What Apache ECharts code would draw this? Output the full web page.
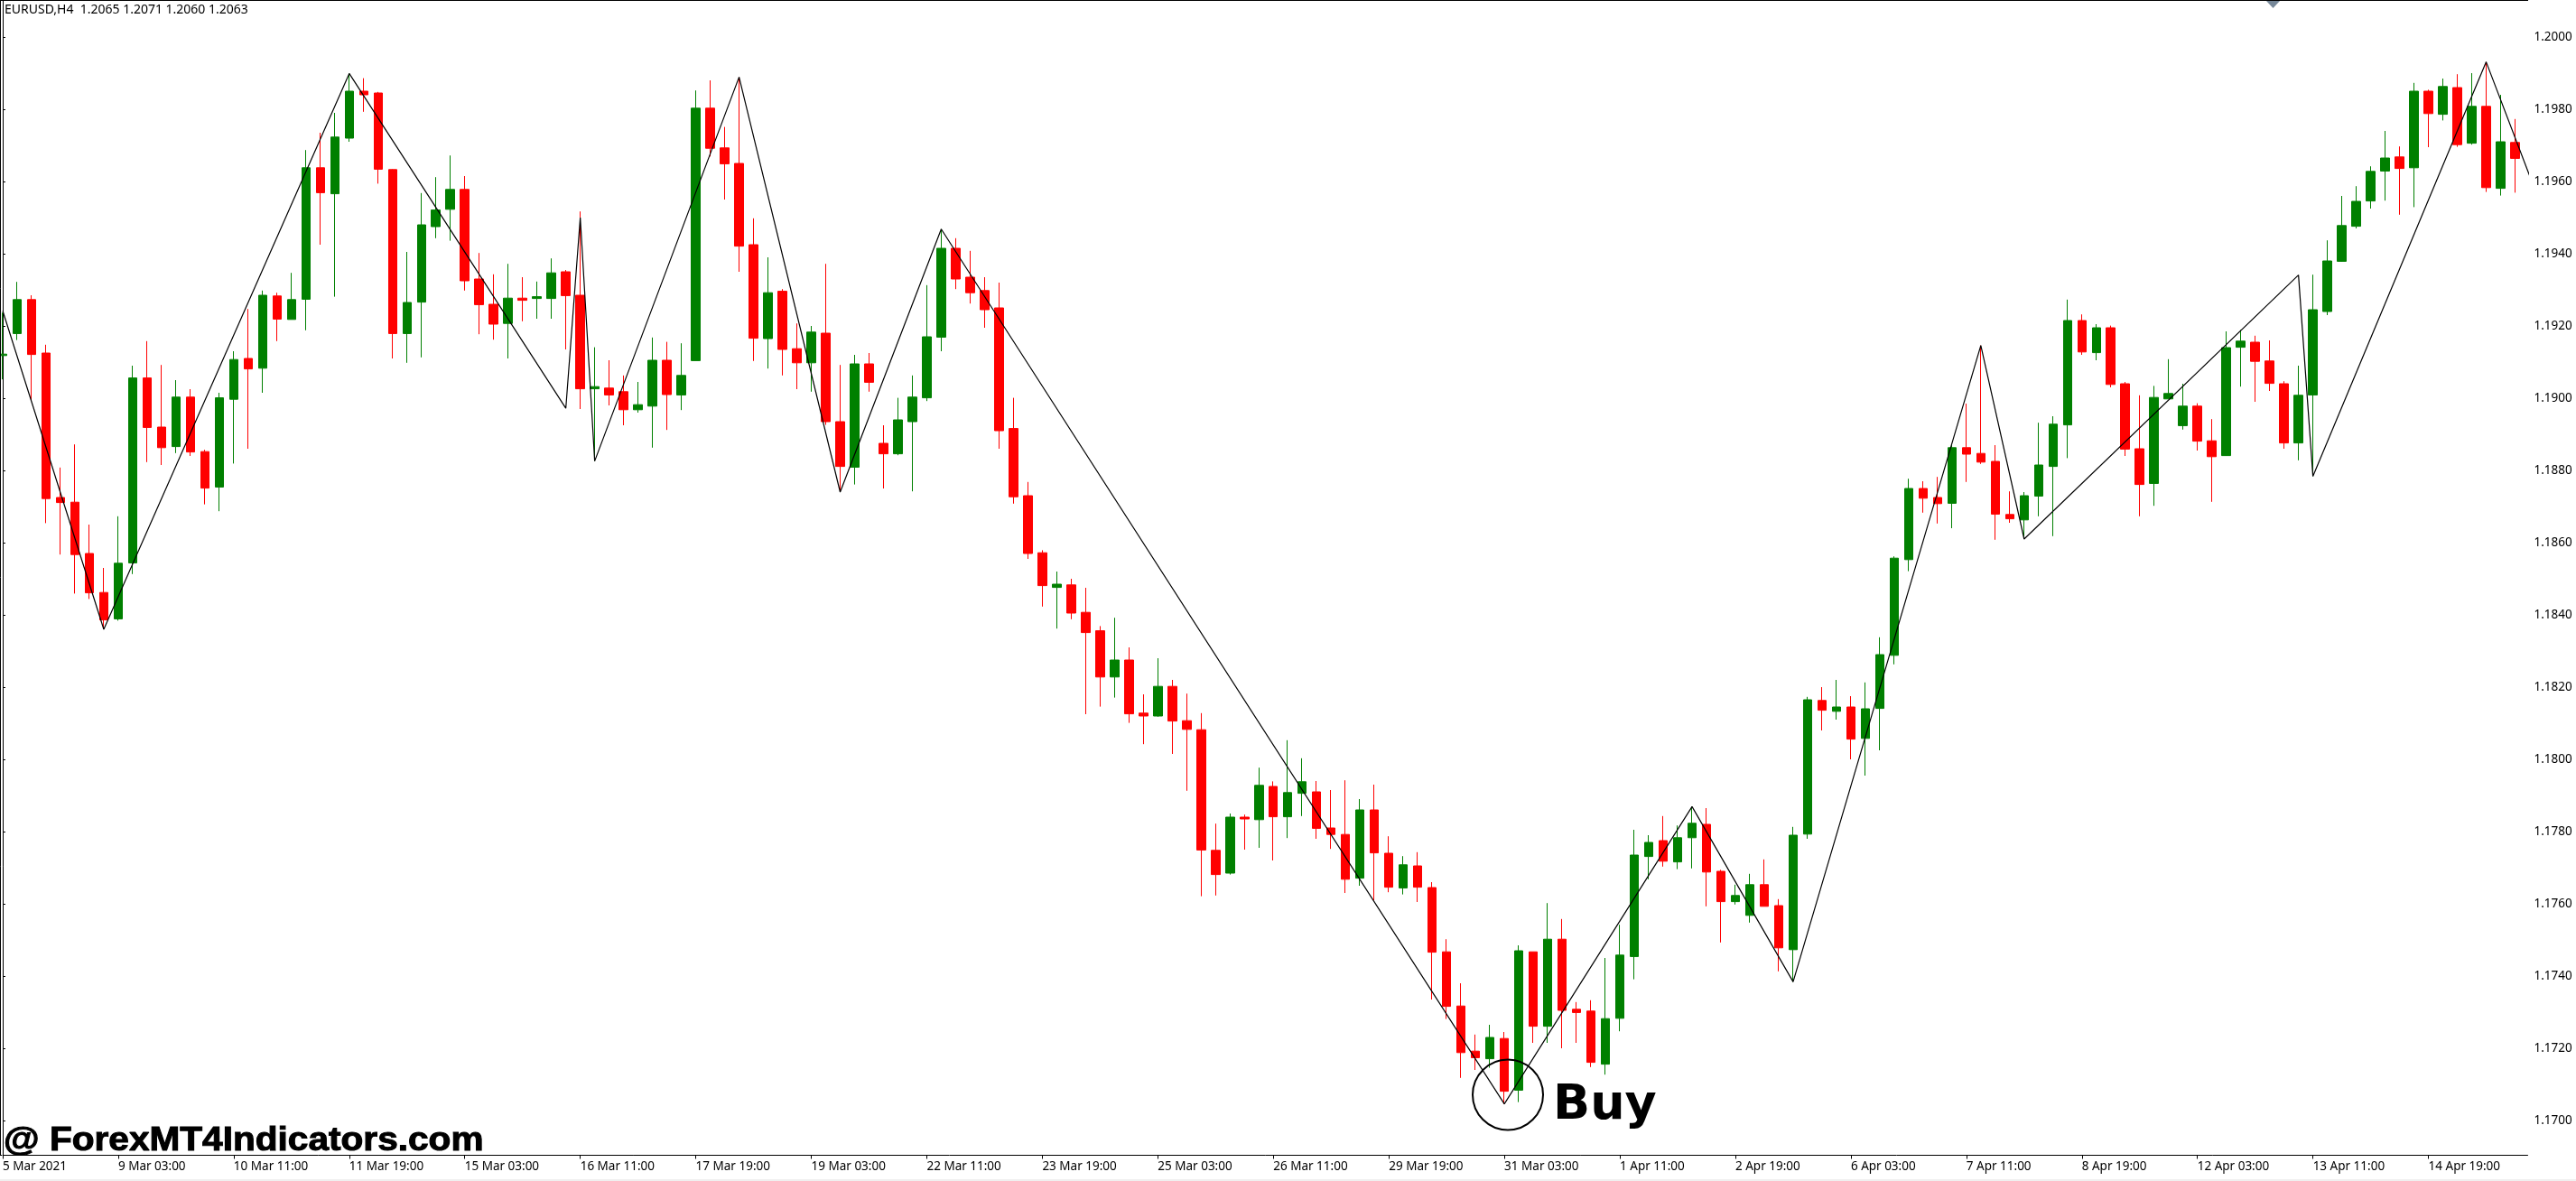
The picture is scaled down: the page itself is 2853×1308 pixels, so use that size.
<!DOCTYPE html>
<html>
<head>
<meta charset="utf-8">
<title>EURUSD,H4</title>
<script src="https://cdn.jsdelivr.net/npm/echarts@6/dist/echarts.min.js"></script>
<style>
  html, body { margin: 0; padding: 0; background: #fff; }
  #chart { width: 2853px; height: 1308px; }
</style>
</head>
<body>
<div id="chart"></div>
<script>
var opens = [
  1.19118,1.19179,1.19273,1.19125,1.18725,1.18712,1.18570,1.18462,1.18389,1.18544,
  1.19056,1.18920,1.18866,1.19003,1.18852,1.18754,1.18997,1.19110,1.19083,1.19283,
  1.19218,1.19274,1.19638,1.19566,1.19720,1.19850,1.19845,1.19633,1.19179,1.19266,
  1.19475,1.19523,1.19578,1.19330,1.19260,1.19207,1.19277,1.19276,1.19276,1.19350,
  1.19285,1.19026,1.19028,1.19018,1.18968,1.18978,1.19105,1.19009,1.19104,1.19803,
  1.19693,1.19650,1.19425,1.19165,1.19296,1.19137,1.19098,1.19180,1.18935,1.18809,
  1.19095,1.18875,1.18846,1.18935,1.19001,1.19169,1.19415,1.19335,1.19298,1.19250,
  1.18916,1.18730,1.18572,1.18476,1.18483,1.18407,1.18356,1.18228,1.18275,1.18128,
  1.18120,1.18202,1.18107,1.18082,1.17748,1.17685,1.17840,1.17833,1.17925,1.17841,
  1.17906,1.17910,1.17810,1.17792,1.17671,1.17860,1.17740,1.17644,1.17705,1.17645,
  1.17467,1.17317,1.17192,1.17171,1.17227,1.17084,1.17467,1.17261,1.17502,1.17308,
  1.17303,1.17156,1.17283,1.17454,1.17731,1.17775,1.17716,1.17783,1.17820,1.17690,
  1.17606,1.17568,1.17653,1.17595,1.17473,1.17793,1.18163,1.18133,1.18145,1.18058,
  1.18141,1.18288,1.18553,1.18750,1.18725,1.18709,1.18863,1.18847,1.18825,1.18678,
  1.18663,1.18729,1.18811,1.18926,1.19215,1.19126,1.19195,1.19040,1.18860,1.18764,
  1.18998,1.18924,1.18978,1.18882,1.18841,1.19141,1.19155,1.19103,1.19040,1.18876,
  1.19009,1.19240,1.19379,1.19476,1.19546,1.19629,1.19668,1.19638,1.19850,1.19786,
  1.19860,1.19706,1.19808,1.19581,1.19708
];
var closes = [
  1.19122,1.19273,1.19121,1.18722,1.18711,1.18567,1.18461,1.18386,1.18543,1.19056,
  1.18919,1.18863,1.19003,1.18851,1.18751,1.19001,1.19107,1.19081,1.19285,1.19219,
  1.19273,1.19638,1.19569,1.19723,1.19850,1.19840,1.19634,1.19179,1.19265,1.19480,
  1.19521,1.19578,1.19325,1.19259,1.19205,1.19277,1.19271,1.19281,1.19347,1.19284,
  1.19026,1.19032,1.19009,1.18968,1.18982,1.19105,1.19010,1.19063,1.19803,1.19692,
  1.19649,1.19421,1.19166,1.19292,1.19135,1.19098,1.19183,1.18935,1.18811,1.19095,
  1.19044,1.18846,1.18940,1.19003,1.19170,1.19415,1.19330,1.19292,1.19245,1.18910,
  1.18727,1.18570,1.18481,1.18485,1.18405,1.18351,1.18228,1.18275,1.18126,1.18120,
  1.18202,1.18106,1.18083,1.17749,1.17681,1.17840,1.17835,1.17928,1.17841,1.17908,
  1.17938,1.17809,1.17792,1.17668,1.17860,1.17741,1.17646,1.17708,1.17646,1.17466,
  1.17316,1.17188,1.17174,1.17230,1.17081,1.17470,1.17261,1.17502,1.17305,1.17299,
  1.17161,1.17282,1.17458,1.17735,1.17770,1.17718,1.17783,1.17823,1.17688,1.17606,
  1.17623,1.17653,1.17593,1.17478,1.17790,1.18165,1.18136,1.18145,1.18056,1.18140,
  1.18290,1.18557,1.18750,1.18723,1.18708,1.18863,1.18845,1.18823,1.18679,1.18666,
  1.18730,1.18815,1.18928,1.19215,1.19128,1.19195,1.19038,1.18859,1.18761,1.19002,
  1.19013,1.18978,1.18881,1.18838,1.19140,1.19158,1.19102,1.19041,1.18876,1.19008,
  1.19245,1.19380,1.19478,1.19545,1.19628,1.19665,1.19636,1.19850,1.19788,1.19863,
  1.19702,1.19808,1.19583,1.19710,1.19664
];
var highs = [
  1.19237,1.19322,1.19285,1.19148,1.18808,1.18872,1.18650,1.18530,1.18673,1.19090,
  1.19158,1.19092,1.19050,1.19025,1.18857,1.19015,1.19130,1.19247,1.19298,1.19292,
  1.19347,1.19687,1.19735,1.19790,1.19899,1.19886,1.19848,1.19634,1.19405,1.19568,
  1.19612,1.19672,1.19615,1.19402,1.19343,1.19372,1.19335,1.19323,1.19387,1.19355,
  1.19517,1.19141,1.19105,1.19063,1.19045,1.19168,1.19156,1.19152,1.19852,1.19880,
  1.19751,1.19889,1.19498,1.19390,1.19302,1.19207,1.19200,1.19372,1.19092,1.19120,
  1.19125,1.18925,1.19001,1.19063,1.19313,1.19468,1.19443,1.19408,1.19335,1.19320,
  1.19001,1.18768,1.18579,1.18520,1.18500,1.18475,1.18369,1.18392,1.18310,1.18180,
  1.18280,1.18220,1.18182,1.18128,1.17822,1.17850,1.17847,1.17977,1.17939,1.18053,
  1.18003,1.17940,1.17915,1.17942,1.17890,1.17930,1.17787,1.17732,1.17743,1.17660,
  1.17502,1.17380,1.17238,1.17265,1.17245,1.17485,1.17467,1.17602,1.17558,1.17328,
  1.17333,1.17450,1.17542,1.17805,1.17790,1.17843,1.17817,1.17869,1.17865,1.17694,
  1.17653,1.17683,1.17723,1.17613,1.17813,1.18173,1.18200,1.18220,1.18175,1.18213,
  1.18338,1.18562,1.18777,1.18770,1.18782,1.18870,1.18985,1.19146,1.18870,1.18742,
  1.18740,1.18932,1.18950,1.19273,1.19232,1.19205,1.19201,1.19045,1.19008,1.19034,
  1.19108,1.19040,1.18986,1.18942,1.19185,1.19189,1.19173,1.19160,1.19047,1.19090,
  1.19342,1.19437,1.19560,1.19587,1.19642,1.19740,1.19697,1.19873,1.19854,1.19885,
  1.19897,1.19900,1.19931,1.19840,1.19773
];
var lows = [
  1.19052,1.19161,1.18995,1.18654,1.18567,1.18459,1.18444,1.18360,1.18384,1.18513,
  1.18823,1.18815,1.18848,1.18840,1.18706,1.18687,1.18819,1.18860,1.19015,1.19158,
  1.19218,1.19188,1.19425,1.19281,1.19710,1.19793,1.19594,1.19110,1.19098,1.19113,
  1.19443,1.19436,1.19298,1.19177,1.19162,1.19110,1.19213,1.19220,1.19220,1.19135,
  1.18970,1.18826,1.18980,1.18925,1.18960,1.18863,1.18912,1.18967,1.19104,1.19669,
  1.19550,1.19350,1.19103,1.19082,1.19063,1.19025,1.19018,1.18926,1.18740,1.18761,
  1.19018,1.18750,1.18842,1.18742,1.18992,1.19130,1.19302,1.19262,1.19195,1.18860,
  1.18708,1.18555,1.18423,1.18362,1.18388,1.18125,1.18146,1.18171,1.18101,1.18042,
  1.18118,1.18015,1.17913,1.17621,1.17623,1.17681,1.17750,1.17755,1.17720,1.17782,
  1.17843,1.17780,1.17752,1.17630,1.17650,1.17610,1.17632,1.17626,1.17605,1.17335,
  1.17281,1.17118,1.17140,1.17146,1.17046,1.17051,1.17215,1.17215,1.17200,1.17215,
  1.17148,1.17127,1.17247,1.17391,1.17668,1.17703,1.17696,1.17698,1.17593,1.17493,
  1.17598,1.17548,1.17593,1.17413,1.17384,1.17780,1.18080,1.18110,1.18000,1.17955,
  1.18025,1.18263,1.18521,1.18683,1.18653,1.18640,1.18768,1.18818,1.18608,1.18655,
  1.18610,1.18673,1.18618,1.18834,1.19120,1.19105,1.19030,1.18840,1.18673,1.18702,
  1.18998,1.18913,1.18855,1.18713,1.18840,1.19032,1.18990,1.19020,1.18860,1.18828,
  1.18784,1.19230,1.19378,1.19470,1.19525,1.19547,1.19508,1.19529,1.19695,1.19769,
  1.19696,1.19702,1.19571,1.19561,1.19569
];

// zigzag turning points: bar number and price
var zigzagBars = [0, 7, 24, 39, 40, 41, 51, 58, 65, 104, 117, 124, 137, 140, 159, 160, 172, 175];
var zigzagPrices = [1.19242, 1.18360, 1.19899, 1.18972, 1.19500, 1.18826, 1.19889, 1.18740, 1.19468,
  1.17046, 1.17869, 1.17384, 1.19146, 1.18610, 1.19341, 1.18784, 1.19931, 1.19617];

var priceTicks = [1.2000, 1.1980, 1.1960, 1.1940, 1.1920, 1.1900, 1.1880, 1.1860, 1.1840, 1.1820,
  1.1800, 1.1780, 1.1760, 1.1740, 1.1720, 1.1700];
var timeLabels = ['5 Mar 2021', '9 Mar 03:00', '10 Mar 11:00', '11 Mar 19:00', '15 Mar 03:00', '16 Mar 11:00',
  '17 Mar 19:00', '19 Mar 03:00', '22 Mar 11:00', '23 Mar 19:00', '25 Mar 03:00', '26 Mar 11:00',
  '29 Mar 19:00', '31 Mar 03:00', '1 Apr 11:00', '2 Apr 19:00', '6 Apr 03:00', '7 Apr 11:00',
  '8 Apr 19:00', '12 Apr 03:00', '13 Apr 11:00', '14 Apr 19:00'];
var barsPerLabel = 8;

var chart = echarts.init(document.getElementById('chart'), null, { renderer: 'canvas' });
var axisFont = '"Noto Sans", sans-serif';
var timeTicks = timeLabels.map(function(l, i) { return i * barsPerLabel; });

var candles = opens.map(function(o, i) {
  return [i, o, closes[i], lows[i], highs[i]];
});
var zigzag = zigzagBars.map(function(b, i) {
  return [b, zigzagPrices[i]];
});

var option = {
  backgroundColor: '#fff',
  animation: false,
  grid: { left: 1.5, right: 53.5, top: 0.5, bottom: 28.5 },
  xAxis: {
    type: 'value',
    min: 0,
    max: 174.875,
    splitLine: { show: false },
    axisLine: { show: true, lineStyle: { color: '#000', width: 1 } },
    axisTick: { show: true, length: 4, customValues: timeTicks, lineStyle: { color: '#000' } },
    axisLabel: {
      customValues: timeTicks,
      margin: 6,
      color: '#000',
      fontFamily: axisFont,
      fontSize: 13.5,
      align: 'left',
      hideOverlap: false,
      formatter: function(v) { return timeLabels[v / barsPerLabel]; }
    }
  },
  yAxis: {
    type: 'value',
    position: 'right',
    min: 1.1690375,
    max: 1.2010125,
    splitLine: { show: false },
    axisLine: { show: true, lineStyle: { color: '#000', width: 1 } },
    axisTick: { show: true, length: 3, customValues: priceTicks, lineStyle: { color: '#000' } },
    axisLabel: {
      customValues: priceTicks,
      margin: 7,
      color: '#000',
      fontFamily: axisFont,
      fontSize: 13.5,
      formatter: function(v) { return v.toFixed(4); }
    }
  },
  series: [{
    name: 'ZigZag',
    type: 'line',
    data: zigzag,
    symbol: 'none',
    clip: true,
    lineStyle: { color: '#000', width: 1.2 }
  }, {
    name: 'EURUSD,H4',
    type: 'candlestick',
    data: candles,
    barWidth: 10,
    clip: false,
    itemStyle: {
      color: '#008000',
      color0: '#ff0000',
      borderColor: '#008000',
      borderColor0: '#ff0000',
      borderWidth: 1
    }
  }],
  graphic: [
    { type: 'line', z: 100, shape: { x1: 0.5, y1: 0, x2: 0.5, y2: 1279 }, style: { stroke: '#000', lineWidth: 1 } },
    { type: 'line', z: 100, shape: { x1: 0, y1: 0.5, x2: 2800, y2: 0.5 }, style: { stroke: '#000', lineWidth: 1 } },
    { type: 'line', z: 100, shape: { x1: 0, y1: 1279.5, x2: 2, y2: 1279.5 }, style: { stroke: '#000', lineWidth: 1 } },
    { type: 'rect', z: 100, shape: { x: 0, y: 1306, width: 2853, height: 2 }, style: { fill: '#f0f0f0' } },
    { type: 'polygon', z: 100, shape: { points: [[2510, 1], [2525, 1], [2517.5, 9]] }, style: { fill: '#778899' } },
    { type: 'text', z: 100, x: 5, y: 4, style: {
      text: 'EURUSD,H4  1.2065 1.2071 1.2060 1.2063', fill: '#000', font: '14px "Noto Sans", sans-serif'
    } },
    { type: 'circle', z: 100, shape: { cx: 1670, cy: 1212.5, r: 39 }, style: { fill: 'none', stroke: '#000', lineWidth: 2 } },
    { type: 'text', z: 100, x: 1720, y: 1198, style: {
      text: 'Buy', fill: '#000', font: 'bold 54px "DejaVu Sans", sans-serif'
    } },
    { type: 'text', z: 100, x: 4, y: 1246, scaleX: 1.128, style: {
      text: '@ ForexMT4Indicators.com', fill: '#000', stroke: '#000', lineWidth: 1,
      font: 'bold 36px "Liberation Sans", sans-serif'
    } }
  ]
};
chart.setOption(option);
</script>
</body>
</html>
